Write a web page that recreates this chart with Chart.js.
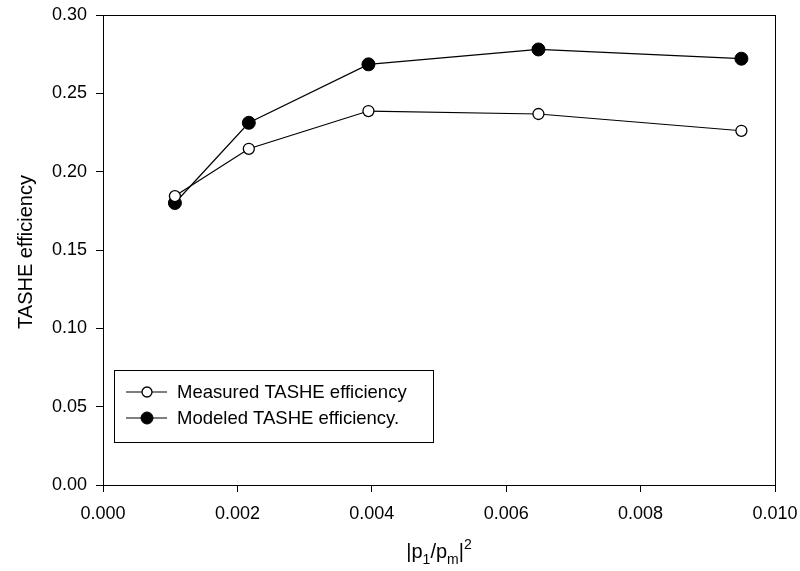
<!DOCTYPE html>
<html>
<head>
<meta charset="utf-8">
<script src="https://cdn.jsdelivr.net/npm/chart.js@4.4.0/dist/chart.umd.min.js"></script>
<style>
  html, body { margin: 0; padding: 0; background: #fff; }
  #wrap { width: 800px; height: 571px; }
</style>
</head>
<body>
<div id="wrap"><canvas id="c"></canvas></div>
<script>
// values
const xValues = [0.00107, 0.00217, 0.00395, 0.00648, 0.00950];
const measured = [0.1844, 0.2146, 0.2387, 0.2368, 0.2261];
const modeled = [0.1800, 0.2312, 0.2685, 0.2780, 0.2721];
const seriesNames = ['Measured TASHE efficiency', 'Modeled TASHE efficiency.'];
const xTicks = [0, 0.002, 0.004, 0.006, 0.008, 0.010];
const yTicks = [0, 0.05, 0.10, 0.15, 0.20, 0.25, 0.30];
const yTitle = 'TASHE efficiency';

const FONT = 'Arial, "Liberation Sans", sans-serif';

function pts(ys) {
  return xValues.map((x, i) => ({ x: x, y: ys[i] }));
}

// frame on top and right, axis titles, legend box
const extras = {
  id: 'extras',
  afterDraw(chart) {
    const ctx = chart.ctx;
    const a = chart.chartArea;
    ctx.save();
    ctx.strokeStyle = '#000';
    ctx.lineWidth = 1;
    ctx.strokeRect(a.left + 0.5, a.top + 0.5, a.right - a.left, a.bottom - a.top);
    ctx.fillStyle = '#000';

    // y axis title
    ctx.save();
    ctx.translate(26, (a.top + a.bottom) / 2 + 2);
    ctx.rotate(-Math.PI / 2);
    ctx.font = '20px ' + FONT;
    ctx.textAlign = 'center';
    ctx.textBaseline = 'middle';
    ctx.fillText(yTitle, 0, 0);
    ctx.restore();

    // x axis title  |p1/pm|^2
    const parts = [
      ['|p', 0, 20], ['1', 6, 14], ['/p', 0, 20], ['m', 6, 14], ['|', 0, 20], ['2', -9, 14]
    ];
    let w = 0;
    parts.forEach(p => { ctx.font = p[2] + 'px ' + FONT; w += ctx.measureText(p[0]).width; });
    let x = (a.left + a.right) / 2 - w / 2;
    const base = 558;
    ctx.textBaseline = 'alphabetic';
    parts.forEach(p => {
      ctx.font = p[2] + 'px ' + FONT;
      ctx.fillText(p[0], x, base + p[1]);
      x += ctx.measureText(p[0]).width;
    });

    // legend
    const lx = 114, ly = 370, lw = 319, lh = 72;
    ctx.lineWidth = 1;
    ctx.strokeRect(lx + 0.5, ly + 0.5, lw, lh);
    ctx.font = '18.5px ' + FONT;
    ctx.textBaseline = 'middle';
    chart.data.datasets.forEach((ds, i) => {
      const yy = 392 + i * 26;
      ctx.beginPath();
      ctx.moveTo(126, yy);
      ctx.lineTo(167, yy);
      ctx.lineWidth = 1.2;
      ctx.stroke();
      ctx.beginPath();
      ctx.arc(147, yy, ds.pointRadius - 0.5, 0, Math.PI * 2);
      ctx.fillStyle = ds.pointBackgroundColor;
      ctx.fill();
      ctx.lineWidth = ds.pointBorderWidth;
      ctx.stroke();
      ctx.fillStyle = '#000';
      ctx.fillText(ds.label, 177, yy + 1);
    });
    ctx.restore();
  }
};

new Chart(document.getElementById('c'), {
  type: 'scatter',
  data: {
    datasets: [
      {
        label: seriesNames[0],
        data: pts(measured),
        showLine: true,
        borderColor: '#000',
        borderWidth: 1.2,
        pointRadius: 5.5,
        pointBackgroundColor: '#fff',
        pointBorderColor: '#000',
        pointBorderWidth: 1.3
      },
      {
        label: seriesNames[1],
        data: pts(modeled),
        showLine: true,
        borderColor: '#000',
        borderWidth: 1.2,
        pointRadius: 6.5,
        pointBackgroundColor: '#000',
        pointBorderColor: '#000',
        pointBorderWidth: 1
      }
    ]
  },
  options: {
    responsive: true,
    maintainAspectRatio: false,
    animation: false,
    layout: { padding: { top: 15, right: 25, left: 0, bottom: 0 } },
    plugins: { legend: { display: false }, tooltip: { enabled: false } },
    scales: {
      x: {
        type: 'linear',
        min: 0,
        max: 0.010,
        afterFit(s) {
          s.height = 86;
          s.paddingLeft = 0;
          s.paddingRight = 0;
        },
        afterBuildTicks(s) { s.ticks = xTicks.map(v => ({ value: v })); },
        ticks: {
          color: '#000',
          font: { family: FONT, size: 18 },
          padding: 11,
          maxRotation: 0,
          callback: v => Number(v).toFixed(3)
        },
        grid: { drawOnChartArea: false, drawTicks: true, tickLength: 7, color: '#000' },
        border: { display: true, color: '#000', width: 1 }
      },
      y: {
        min: 0,
        max: 0.30,
        afterFit(s) {
          s.width = 103;
          s.paddingTop = 0;
          s.paddingBottom = 0;
        },
        afterBuildTicks(s) { s.ticks = yTicks.map(v => ({ value: v })); },
        ticks: {
          color: '#000',
          font: { family: FONT, size: 18 },
          padding: 9,
          callback: v => Number(v).toFixed(2)
        },
        grid: { drawOnChartArea: false, drawTicks: true, tickLength: 7, color: '#000' },
        border: { display: true, color: '#000', width: 1 }
      }
    }
  },
  plugins: [extras]
});
</script>
</body>
</html>
